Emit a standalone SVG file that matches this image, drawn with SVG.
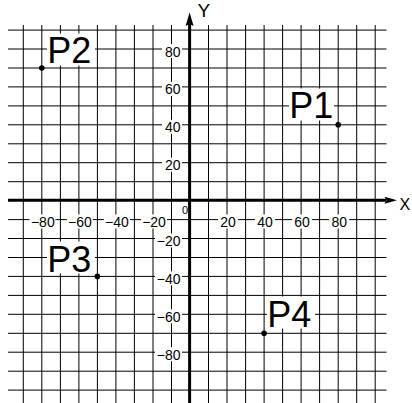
<svg xmlns="http://www.w3.org/2000/svg" width="412" height="403" viewBox="0 0 412 403">
<style>
.g{stroke:#000;stroke-width:1;fill:none}
.ax{stroke:#000;stroke-width:3;fill:none}
.bg{fill:#fff}
.t{font-family:"Liberation Sans",Arial,sans-serif;font-size:14px;fill:#000}
.xl{text-anchor:middle}
.yl{text-anchor:end}
.p{font-family:"Liberation Sans",Arial,sans-serif;font-size:36px;fill:#000}
.ah{fill:#000}
</style>
<rect width="412" height="403" fill="#fff"/>
<g id="grid">
<path class="g" d="M23.3 25V403M41.8 25V403M60.4 25V403M78.9 25V403M97.4 25V403M115.9 25V403M134.4 25V403M153 25V403M171.5 25V403M208.5 25V403M227 25V403M245.6 25V403M264.1 25V403M282.6 25V403M301.1 25V403M319.6 25V403M338.2 25V403M356.7 25V403M375.2 25V403"/>
<path class="g" d="M8 30.1H386.5M8 49H386.5M8 68H386.5M8 86.9H386.5M8 105.9H386.5M8 124.8H386.5M8 143.8H386.5M8 162.7H386.5M8 181.7H386.5M8 219.6H386.5M8 238.5H386.5M8 257.5H386.5M8 276.4H386.5M8 295.4H386.5M8 314.3H386.5M8 333.3H386.5M8 352.2H386.5M8 371.2H386.5M8 390.1H386.5"/>
</g>
<g id="ticks">
<rect class="bg" x="29.5" y="214.5" width="26" height="14"/>
<rect class="bg" x="66.9" y="214.5" width="26" height="14"/>
<rect class="bg" x="103.9" y="214.5" width="26" height="14"/>
<rect class="bg" x="141" y="214.5" width="26" height="14"/>
<rect class="bg" x="218" y="214.5" width="20" height="14"/>
<rect class="bg" x="255.1" y="214.5" width="20" height="14"/>
<rect class="bg" x="292.1" y="214.5" width="20" height="14"/>
<rect class="bg" x="329.2" y="214.5" width="20" height="14"/>
<text class="t xl" x="42.8" y="227">−80</text>
<text class="t xl" x="79.9" y="227">−60</text>
<text class="t xl" x="116.9" y="227">−40</text>
<text class="t xl" x="154" y="227">−20</text>
<text class="t xl" x="228" y="227">20</text>
<text class="t xl" x="265.1" y="227">40</text>
<text class="t xl" x="302.1" y="227">60</text>
<text class="t xl" x="339.2" y="227">80</text>
<rect class="bg" x="162" y="44" width="20" height="14"/>
<rect class="bg" x="162" y="81.9" width="20" height="14"/>
<rect class="bg" x="162" y="119.8" width="20" height="14"/>
<rect class="bg" x="162" y="157.7" width="20" height="14"/>
<rect class="bg" x="155" y="233.5" width="27" height="14"/>
<rect class="bg" x="155" y="271.4" width="27" height="14"/>
<rect class="bg" x="155" y="309.3" width="27" height="14"/>
<rect class="bg" x="155" y="347.2" width="27" height="14"/>
<text class="t yl" x="180.5" y="56.5">80</text>
<text class="t yl" x="180.5" y="94.4">60</text>
<text class="t yl" x="180.5" y="132.3">40</text>
<text class="t yl" x="180.5" y="170.2">20</text>
<text class="t yl" x="180.5" y="246">−20</text>
<text class="t yl" x="180.5" y="283.9">−40</text>
<text class="t yl" x="180.5" y="321.8">−60</text>
<text class="t yl" x="180.5" y="359.7">−80</text>
<text class="t xl" x="185" y="214" style="font-size:11px">0</text>
</g>
<g id="axes">
<path class="ax" d="M8 200.3H386"/>
<path class="ax" d="M189.6 403V24"/>
<path class="ah" d="M397 200.3L384.5 196.8L386.5 200.3L384.5 203.8Z"/>
<path class="ah" d="M189.6 12.5L185.6 26L189.6 24L193.6 26Z"/>
<text class="t" x="197.5" y="17" style="font-size:19px">Y</text>
<text class="t" x="399.5" y="210" style="font-size:16px">X</text>
</g>
<g id="P1">
<rect class="bg" x="289" y="88.5" width="45" height="32"/>
<text class="p" x="289.2" y="118.3">P1</text>
<circle cx="338.2" cy="124.8" r="2.8"/>
</g>
<g id="P2">
<rect class="bg" x="47" y="33.5" width="48" height="32"/>
<text class="p" x="47.2" y="63.3">P2</text>
<circle cx="41.8" cy="68" r="2.8"/>
</g>
<g id="P3">
<rect class="bg" x="47" y="241.5" width="48" height="32"/>
<text class="p" x="47.2" y="271.7">P3</text>
<circle cx="97.4" cy="276.4" r="2.8"/>
</g>
<g id="P4">
<rect class="bg" x="267" y="296.5" width="48" height="32"/>
<text class="p" x="267.2" y="326.7">P4</text>
<circle cx="264.1" cy="333.3" r="2.8"/>
</g>
</svg>
